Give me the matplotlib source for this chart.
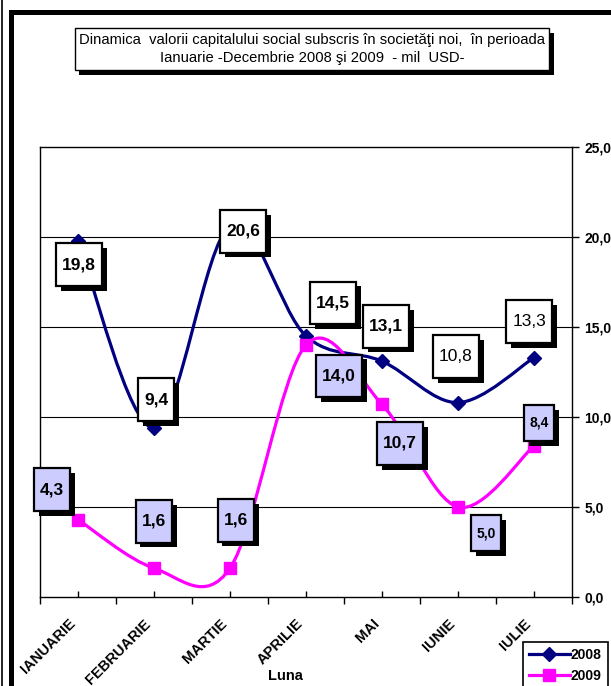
"""
Dinamica valorii capitalului social subscris in societati noi, 2008 vs 2009.
Smoothed line chart with boxed data labels.
"""

import matplotlib
matplotlib.use("Agg")
import matplotlib.pyplot as plt
import matplotlib.patheffects as pe
import matplotlib.transforms as mtransforms
from matplotlib.path import Path
from matplotlib.patches import PathPatch
from matplotlib.lines import Line2D
import numpy as np

plt.rcParams['font.family'] = ['Liberation Sans', 'DejaVu Sans']

# data
months = ["IANUARIE", "FEBRUARIE", "MARTIE", "APRILIE", "MAI", "IUNIE", "IULIE"]
values_2008 = [19.8, 9.4, 20.6, 14.5, 13.1, 10.8, 13.3]
values_2009 = [4.3, 1.6, 1.6, 14.0, 10.7, 5.0, 8.4]

# label placement (pixel offsets from the point)
offsets_2008 = [(1, -24), (2, 28), (13, -5), (27, 33), (4, 35), (-2, 46), (-5, 36)]
offsets_2009 = [(-26, 30), (0, 47), (6, 48), (33, -31), (18, -39), (28, -26), (5, 23)]

NAVY = '#000080'
MAGENTA = '#FF00FF'
LAVENDER = '#CCCCFF'


def smooth_path(ys):
    """Excel-like smoothed line: Catmull-Rom segments as cubic Beziers."""
    pts = np.column_stack([np.arange(len(ys), dtype=float), ys])
    n = len(pts)
    verts = [pts[0]]
    codes = [Path.MOVETO]
    for i in range(n - 1):
        p0 = pts[max(i - 1, 0)]
        p1 = pts[i]
        p2 = pts[i + 1]
        p3 = pts[min(i + 2, n - 1)]
        verts += [p1 + (p2 - p0) / 6, p2 - (p3 - p1) / 6, p2]
        codes += [Path.CURVE4] * 3
    return Path(verts, codes)


def label_box(x0, y0, width, height, mutation_size):
    """Square box, taller than the default padding gives."""
    px = 0.36 * mutation_size
    py = 0.8 * mutation_size
    x0, y0 = x0 - px, y0 - py
    x1, y1 = x0 + width + 2 * px, y0 + height + 2 * py
    return Path([(x0, y0), (x1, y0), (x1, y1), (x0, y1), (x0, y0)], closed=True)


def fmt(v):
    return f"{v:.1f}".replace('.', ',')


def add_label(ax, x, y, text, offset, face, weight='bold', size=12.5):
    t = ax.annotate(text, (x, y), xytext=offset, textcoords='offset pixels',
                    ha='center', va='center', fontsize=size, fontweight=weight,
                    bbox=dict(boxstyle=label_box, fc=face, ec='black', lw=1.6),
                    zorder=8, annotation_clip=False)
    t.get_bbox_patch().set_path_effects([
        pe.SimplePatchShadow(offset=(3.5, -3.5), shadow_rgbFace='black', alpha=1),
        pe.Normal()])


fig = plt.figure(figsize=(6.11, 6.86), dpi=100)
ax = fig.add_axes([40 / 611, 89 / 686, 532 / 611, 450 / 686])

x = np.arange(len(months))

# gridlines
for g in [5, 10, 15, 20]:
    ax.axhline(g, color='black', lw=0.8, zorder=1)

# series
ax.add_patch(PathPatch(smooth_path(values_2008), fc='none', ec=NAVY, lw=2.3, zorder=3))
ax.plot(x, values_2008, ls='none', marker='D', ms=7, color=NAVY, zorder=4)
ax.add_patch(PathPatch(smooth_path(values_2009), fc='none', ec=MAGENTA, lw=2.3, zorder=5))
ax.plot(x, values_2009, ls='none', marker='s', ms=8, color=MAGENTA, zorder=6)

# data labels
for i, v in enumerate(values_2008):
    plain = i >= 5
    add_label(ax, x[i], v, fmt(v), offsets_2008[i], 'white',
              weight='normal' if plain else 'bold')
for i, v in enumerate(values_2009):
    small = i >= 5
    add_label(ax, x[i], v, fmt(v), offsets_2009[i], LAVENDER,
              size=10 if small else 12.5)

# axes
ax.set_xlim(-0.5, len(months) - 0.5)
ax.set_ylim(0, 25)
ax.set_xticks(x)
ax.set_xticks(np.arange(-0.5, len(months), 1.0), minor=True)
ax.set_xticklabels(months, rotation=45, ha='right', va='top',
                   rotation_mode='anchor', fontsize=10.5, fontweight='bold')
ax.tick_params(axis='x', which='major', direction='in', length=4, width=1, pad=14)
ax.tick_params(axis='x', which='minor', direction='out', length=5, width=1)
shift = mtransforms.ScaledTranslation(-10 / 100, 0, fig.dpi_scale_trans)
for lbl in ax.get_xticklabels():
    lbl.set_transform(lbl.get_transform() + shift)

ax.yaxis.tick_right()
ax.set_yticks(np.arange(0, 26, 5))
ax.set_yticklabels([fmt(v) for v in np.arange(0, 26, 5)], fontsize=10, fontweight='bold')
ax.tick_params(axis='y', direction='out', length=5, width=1, pad=4)
for s in ax.spines.values():
    s.set_linewidth(1)

fig.text(285 / 611, 1 - 676 / 686, 'Luna', ha='center', va='center',
         fontsize=10.5, fontweight='bold')

# title box
title = fig.text(312 / 611, 1 - 49 / 686,
                 'Dinamica  valorii capitalului social subscris în societăţi noi,  în perioada\n'
                 'Ianuarie -Decembrie 2008 şi 2009  - mil  USD-',
                 ha='center', va='center', fontsize=10.6, linespacing=1.45,
                 bbox=dict(boxstyle='square,pad=0.3', fc='white', ec='black', lw=1))
title.get_bbox_patch().set_path_effects([
    pe.SimplePatchShadow(offset=(3.5, -3.5), shadow_rgbFace='black', alpha=1),
    pe.Normal()])

# legend
handles = [Line2D([], [], color=NAVY, lw=2.3, marker='D', ms=7),
           Line2D([], [], color=MAGENTA, lw=2.3, marker='s', ms=8)]
leg = fig.legend(handles, ['2008', '2009'], loc='upper left',
                 bbox_to_anchor=(523 / 611, 1 - 642 / 686),
                 prop={'size': 10, 'weight': 'bold'}, frameon=True, fancybox=False,
                 edgecolor='black', framealpha=1, handlelength=2.9,
                 handletextpad=0.1, borderpad=0.45, labelspacing=0.45, borderaxespad=0)
leg.get_frame().set_linewidth(1.2)

# outer chart frame
fig.add_artist(Line2D([11 / 611, 11 / 611], [0, 1 - 12 / 686], color='black', lw=3.6))
fig.add_artist(Line2D([11 / 611, 1], [1 - 12 / 686, 1 - 12 / 686], color='black', lw=3.6))
fig.add_artist(Line2D([1.5 / 611, 1.5 / 611], [0, 1], color='black', lw=1.2))

fig.savefig('out.png', dpi=100)
